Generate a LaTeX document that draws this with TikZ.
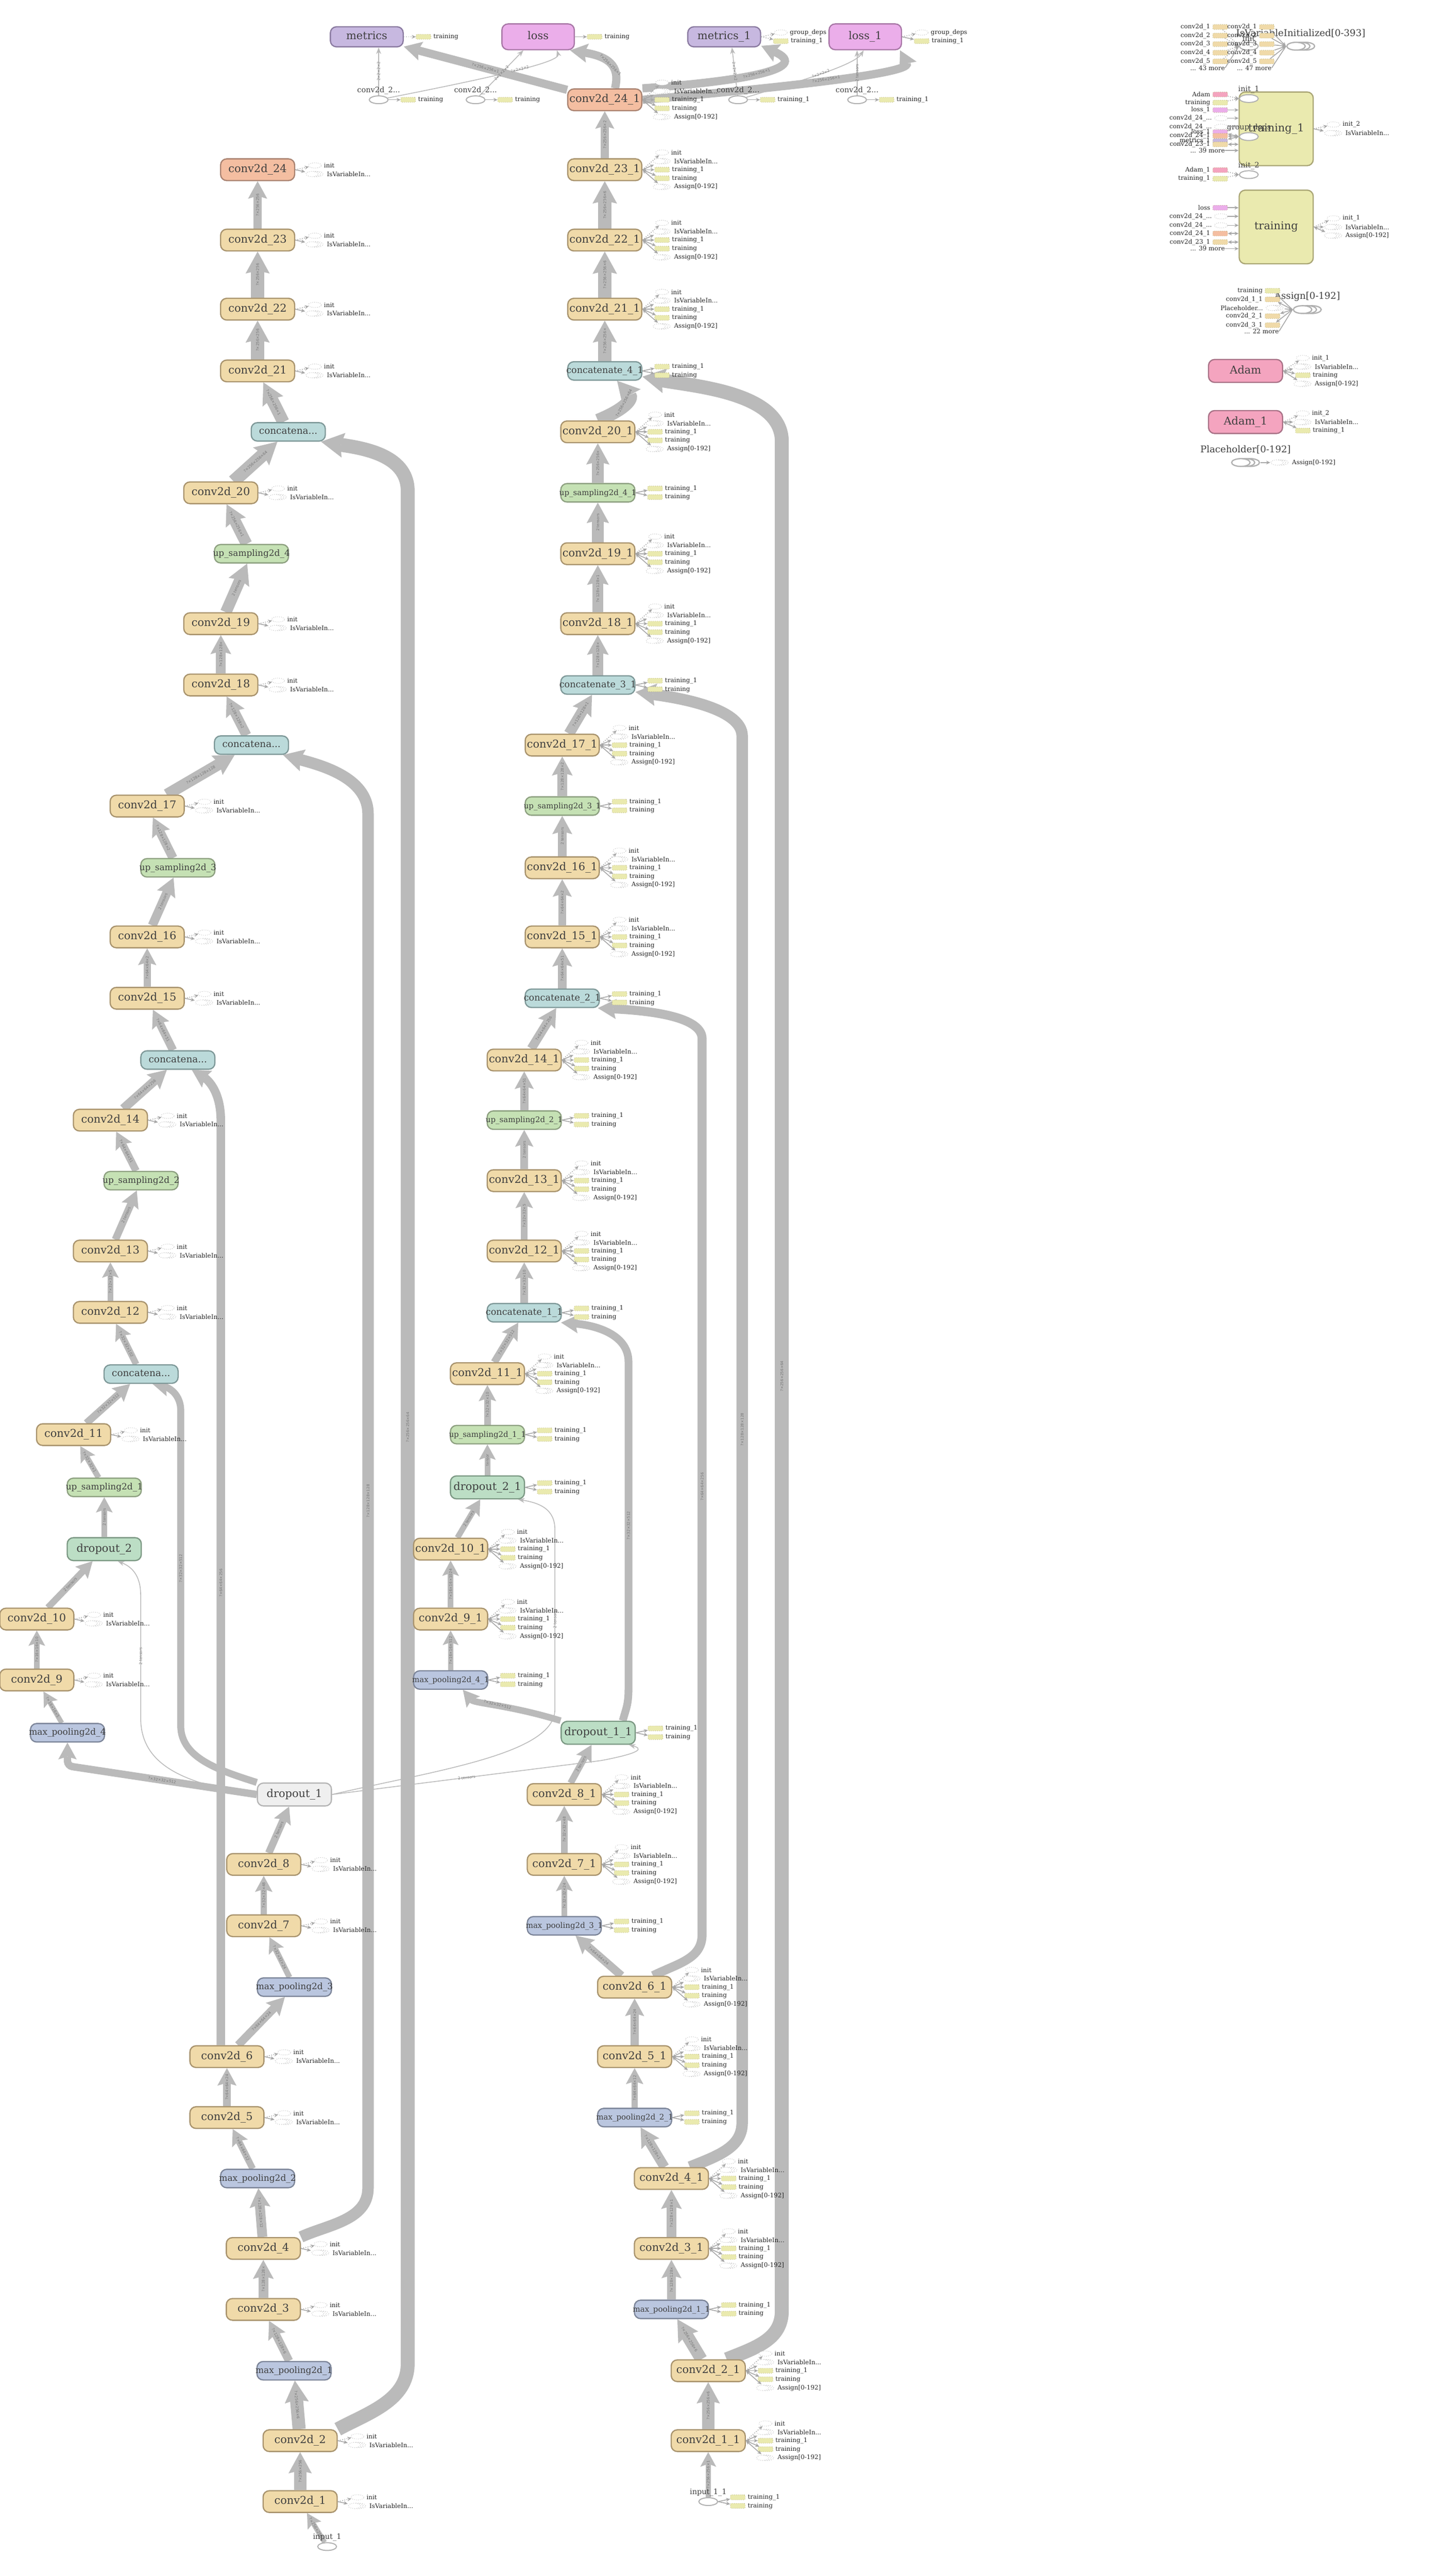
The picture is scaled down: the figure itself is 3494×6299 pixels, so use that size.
\documentclass[tikz,border=0pt]{standalone}
\usepackage{fontspec}
\usepackage{graphicx}
\setmainfont{DejaVu Serif}
\newfontfamily\shapefont{DejaVu Sans}
\usetikzlibrary{arrows.meta,calc,shapes.geometric}
\pgfdeclarelayer{edges}
\pgfsetlayers{edges,main}

\definecolor{convFill}{HTML}{F0DAA9}
\definecolor{convLine}{HTML}{A8936D}
\definecolor{outFill}{HTML}{F4BEA1}
\definecolor{outLine}{HTML}{A98270}
\definecolor{poolFill}{HTML}{BAC6DF}
\definecolor{poolLine}{HTML}{7C8599}
\definecolor{upFill}{HTML}{C5E1B4}
\definecolor{upLine}{HTML}{8DA080}
\definecolor{catFill}{HTML}{BBDADA}
\definecolor{catLine}{HTML}{7E9898}
\definecolor{dropFill}{HTML}{BCDEC5}
\definecolor{dropLine}{HTML}{7B9883}
\definecolor{grayFill}{HTML}{EFEFEF}
\definecolor{grayLine}{HTML}{B5B5B5}
\definecolor{metFill}{HTML}{C7B8E0}
\definecolor{metLine}{HTML}{8A7AA0}
\definecolor{lossFill}{HTML}{EBAEEA}
\definecolor{lossLine}{HTML}{A877A6}
\definecolor{trainFill}{HTML}{EAEAAF}
\definecolor{trainLine}{HTML}{AAA676}
\definecolor{adamFill}{HTML}{F4A4BF}
\definecolor{adamLine}{HTML}{A87186}
\definecolor{edgeGray}{HTML}{BABABA}
\definecolor{annGray}{HTML}{A6A6A6}
\definecolor{stubLine}{HTML}{B0B0B0}
\definecolor{stubEdge}{HTML}{B5AF78}
\definecolor{textGray}{HTML}{3F3F3F}
\definecolor{shapeGray}{HTML}{777777}

\newbox\labbox
\newcommand{\tdots}{...}

\begin{document}
\begin{tikzpicture}[x=0.01cm, y=-0.01cm,
    % op boxes
    gnode/.style={draw, rounded corners=0.15cm, line width=0.03cm,
        minimum width=1.81cm, minimum height=0.53cm, inner sep=0pt,
        text=textGray, font=\fontsize{7.5}{8}\selectfont,
        text height=5.4pt, text depth=1.6pt,
        execute at begin node={\setbox\labbox=\hbox\bgroup},
        execute at end node={\egroup\ifdim\wd\labbox>1.88cm
            \hbox to 0pt{\hss\resizebox{1.88cm}{!}{\box\labbox}\hss}%
            \else\hbox to 0pt{\hss\box\labbox\hss}\fi}},
    convbox/.style={gnode, fill=convFill, draw=convLine},
    outbox/.style={gnode, fill=outFill, draw=outLine},
    opbox/.style={gnode, minimum height=0.45cm, font=\fontsize{6.6}{7}\selectfont,
        text height=4.7pt, text depth=1.4pt},
    poolbox/.style={opbox, fill=poolFill, draw=poolLine},
    upbox/.style={opbox, fill=upFill, draw=upLine},
    catbox/.style={opbox, fill=catFill, draw=catLine},
    dropbox/.style={gnode, minimum height=0.56cm, fill=dropFill, draw=dropLine},
    greybox/.style={gnode, minimum height=0.56cm, fill=grayFill, draw=grayLine},
    metbox/.style={gnode, minimum width=1.78cm, minimum height=0.49cm, fill=metFill, draw=metLine},
    lossbox/.style={gnode, minimum width=1.77cm, minimum height=0.63cm, fill=lossFill, draw=lossLine},
    trainbox/.style={gnode, minimum height=1.80cm, fill=trainFill, draw=trainLine},
    adambox/.style={gnode, minimum height=0.56cm, fill=adamFill, draw=adamLine},
    opell/.style={ellipse, draw=stubLine, line width=0.025cm, fill=white,
        minimum width=0.46cm, minimum height=0.19cm, inner sep=0pt},
    serbig/.style={rectangle, minimum width=0.71cm, minimum height=0.23cm, inner sep=0pt,
        path picture={\foreach \s in {0.47,0.355,0.24}
            \draw[draw=stubLine, line width=0.03cm, fill=white]
                ([xshift=\s cm]path picture bounding box.west) ellipse [x radius=0.225cm, y radius=0.095cm];}},
    elllab/.style={font=\fontsize{5.2}{6}\selectfont, text=textGray, inner sep=0.5pt},
    biglab/.style={font=\fontsize{6.5}{7}\selectfont, text=textGray, inner sep=0.5pt},
    % data flow
    flow/.code={\pgfmathsetlengthmacro\flw{#1*0.01cm}%
        \pgfmathsetlengthmacro\fll{#1*0.009cm+0.25cm}%
        \pgfmathsetlengthmacro\flh{#1*0.01cm+0.27cm}%
        \tikzset{draw=edgeGray, line width=\flw,
            -{Stealth[length=\fll, width=\flh, inset=0.07cm, line width=0pt]}}},
    thinflow/.style={draw=edgeGray, line width=0.02cm, -{Stealth[length=0.16cm, width=0.12cm]}},
    elab/.style={sloped, inner sep=0.4pt, text=shapeGray, font=\shapefont\fontsize{2.6}{3}\selectfont},
    % annotations
    annlab/.style={inner sep=0pt, text=black!85, font=\fontsize{4.3}{5}\selectfont},
    annline/.style={draw=annGray, line width=0.02cm},
    stubell/.style={ellipse, draw=stubLine, densely dotted, line width=0.012cm, fill=white,
        minimum width=0.32cm, minimum height=0.13cm, inner sep=0pt},
    stubser/.style={rectangle, minimum width=0.46cm, minimum height=0.16cm, inner sep=0pt,
        path picture={\foreach \s in {0.28,0.22,0.16}
            \draw[draw=stubLine, densely dotted, line width=0.012cm, fill=white]
                ([xshift=\s cm]path picture bounding box.west) ellipse [x radius=0.15cm, y radius=0.065cm];}},
    stubbox/.style={rectangle, rounded corners=0.02cm, draw=stubEdge, densely dotted,
        line width=0.012cm, fill=#1, minimum width=0.36cm, minimum height=0.12cm, inner sep=0pt},
    stubbox/.default=trainFill,
    stub ini/.style={stubell}, stub gd/.style={stubell},
    stub isv/.style={stubser}, stub asg/.style={stubser},
    stub bt/.style={stubbox}, stub ot/.style={stubbox}, stub dt/.style={stubbox},
    in box/.style={stubbox=#1}, in ell/.style={stubell}, in ser/.style={stubser},
    link ini/.style={annline, densely dotted, -{Stealth[length=0.1cm, width=0.09cm]}},
    link gd/.style={link ini}, link dt/.style={link ini},
    link isv/.style={annline, -{Stealth[length=0.1cm, width=0.09cm]}},
    link ot/.style={link isv},
    link bt/.style={annline, {Stealth[length=0.1cm, width=0.09cm]}-{Stealth[length=0.1cm, width=0.09cm]}},
    link asg/.style={link bt},
    link rev/.style={annline, {Stealth[length=0.1cm, width=0.09cm]}-},
    link bare/.style={annline}
]
\useasboundingbox (0,0) rectangle (3494,6299);

% --- annotation macros ---
\newcommand{\annot}[3]{%
    \foreach \kind/\txt [count=\i] in {#3} {
        \node[stub \kind] (#1-\i) at ($(#1.east)+(48,{(\i-(#2+1)/2)*21})$) {};
        \draw[link \kind] (#1.east) -- (#1-\i);
        \node[annlab, anchor=west] at ([xshift=0.05cm]#1-\i.east) {\txt};
    }%
}
\newcommand{\inrow}[8]{%
    \node[in #4=#5] (#1) at (#2,#3) {};
    \node[annlab, anchor=east] at ([xshift=-0.05cm]#1.west) {#6};
    \draw[link #7] (#1) -- (#8);
}

% --- left copy ---
\node[opell, label={[elllab]above:input\_1}] (inp) at (800,6227) {};
\foreach \n/\px/\py in {1/734/6117, 2/734/5968, 3/644/5647, 4/644/5498, 5/555/5178,
    6/555/5029, 7/645/4709, 8/645/4559, 9/90/4108, 10/90/3959, 11/180/3508,
    12/270/3209, 13/270/3059, 14/270/2739, 15/360/2441, 16/360/2291, 17/360/1971,
    18/540/1675, 19/540/1525, 20/540/1205, 21/630/907, 22/630/756, 23/630/587}
    \node[convbox] (cv\n) at (\px,\py) {conv2d\_\n};
\node[outbox] (cv24) at (630,415) {conv2d\_24};
\foreach \n/\px/\py in {1/719/5797, 2/630/5327, 3/720/4859, 4/165/4237}
    \node[poolbox] (mp\n) at (\px,\py) {max\_pooling2d\_\n};
\foreach \n/\px/\py in {1/255/3637, 2/345/2887, 3/435/2122, 4/615/1354}
    \node[upbox] (up\n) at (\px,\py) {up\_sampling2d\_\n};
\foreach \n/\px/\py in {1/345/3360, 2/435/2592, 3/615/1822, 4/705/1056}
    \node[catbox] (cc\n) at (\px,\py) {concatena\tdots};
\node[greybox] (dp1) at (720,4388) {dropout\_1};
\node[dropbox] (dp2) at (255,3788) {dropout\_2};
\foreach \n in {1,...,24} {\annot{cv\n}{2}{ini/init, isv/IsVariableIn\tdots}}

% --- second copy ---
\node[opell, label={[elllab]above:input\_1\_1}] (inpb) at (1732,6117) {};
\foreach \n/\px/\py in {1/1732/5968, 2/1732/5797, 3/1642/5498, 4/1642/5327, 5/1552/5029,
    6/1552/4859, 7/1380/4559, 8/1380/4388, 9/1102/3959, 10/1102/3788, 11/1192/3359,
    12/1282/3059, 13/1282/2887, 14/1282/2592, 15/1375/2291, 16/1375/2122, 17/1375/1822,
    18/1462/1525, 19/1462/1354, 20/1462/1056, 21/1479/756, 22/1479/587, 23/1479/415}
    \node[convbox] (cv\n b) at (\px,\py) {conv2d\_\n\_1};
\node[outbox] (cv24b) at (1479,244) {conv2d\_24\_1};
\foreach \n/\px/\py in {1/1642/5647, 2/1552/5178, 3/1380/4709, 4/1102/4108}
    \node[poolbox] (mp\n b) at (\px,\py) {max\_pooling2d\_\n\_1};
\foreach \n/\px/\py in {1/1192/3508, 2/1282/2739, 3/1375/1971, 4/1462/1205}
    \node[upbox] (up\n b) at (\px,\py) {up\_sampling2d\_\n\_1};
\foreach \n/\px/\py in {1/1282/3210, 2/1375/2441, 3/1462/1675, 4/1479/907}
    \node[catbox] (cc\n b) at (\px,\py) {concatenate\_\n\_1};
\node[dropbox] (dp1b) at (1463,4237) {dropout\_1\_1};
\node[dropbox] (dp2b) at (1192,3637) {dropout\_2\_1};
\foreach \n in {1,...,24} {%
    \annot{cv\n b}{5}{ini/init, isv/IsVariableIn\tdots, bt/training\_1, bt/training, asg/{Assign[0-192]}}}
\foreach \nm in {mp1b, mp2b, mp3b, mp4b, up1b, up2b, up3b, up4b, cc1b, cc2b, cc3b, cc4b, dp1b, dp2b} {%
    \annot{\nm}{2}{ot/training\_1, ot/training}}
\annot{inpb}{2}{ot/training\_1, ot/training}

% --- metrics and losses ---
\node[metbox] (met) at (897,90) {metrics};
\node[lossbox] (loss) at (1316,90) {loss};
\node[metbox] (met1) at (1771,90) {metrics\_1};
\node[lossbox] (loss1) at (2116,90) {loss\_1};
\foreach \nm/\px in {ea/926, eb/1163, ec/1805, ed/2096}
    \node[opell, label={[elllab]above:conv2d\_2\tdots}] (\nm) at (\px,244) {};
\annot{met}{1}{dt/training}
\annot{loss}{1}{ot/training}
\annot{met1}{2}{gd/group\_deps, dt/training\_1}
\annot{loss1}{2}{gd/group\_deps, ot/training\_1}
\annot{ea}{1}{ot/training}
\annot{eb}{1}{ot/training}
\annot{ec}{1}{ot/training\_1}
\annot{ed}{1}{ot/training\_1}

% --- init and IsVariableInitialized ---
\node[opell, label={[elllab]above:init}] (init0) at (3054,113) {};
\node[serbig, label={[biglab, yshift=0.06cm]above:{IsVariableInitialized[0-393]}}] (isvi) at (3181,113) {};
\foreach \yy/\n in {66/1, 87/2, 108/3, 129/4, 150/5} {
    \inrow{ia\n}{2984}{\yy}{box}{convFill}{conv2d\_\n}{ini}{init0.west}
    \inrow{ib\n}{3098}{\yy}{box}{convFill}{conv2d\_\n}{isv}{isvi.west}
}
\node[annlab, anchor=east] (ia6) at (2996,166) {\tdots{} 43 more};
\node[annlab, anchor=east] (ib6) at (3110,166) {\tdots{} 47 more};
\draw[link bare] (ia6.east) -- (init0.west);
\draw[link bare] (ib6.east) -- (isvi.west);

% --- training_1 ---
\node[trainbox] (tr1) at (3121,315) {training\_1};
\node[opell, label={[elllab]above:init\_1}] (init1) at (3054,241) {};
\node[opell, label={[elllab]above:group\_deps}] (gdep) at (3054,334) {};
\inrow{ta1}{2984}{231}{box}{adamFill}{Adam}{ini}{init1.west}
\inrow{ta2}{2984}{251}{box}{trainFill}{training}{ini}{init1.west}
\inrow{ta3}{2984}{269}{box}{lossFill}{loss\_1}{isv}{tr1.west|-ta3}
\inrow{ta4}{2986}{289}{ell}{white}{conv2d\_24\_\tdots}{isv}{tr1.west|-ta4}
\inrow{ta5}{2986}{310}{ell}{white}{conv2d\_24\_\tdots}{isv}{tr1.west|-ta5}
\inrow{ta6}{2984}{323}{box}{lossFill}{loss\_1}{bt}{gdep.west}
\inrow{ta7}{2984}{332}{box}{outFill}{conv2d\_24\_1}{bt}{gdep.west}
\inrow{ta8}{2984}{345}{box}{metFill}{metrics\_1}{bt}{gdep.west}
\inrow{ta9}{2984}{353}{box}{convFill}{conv2d\_23\_1}{bt}{tr1.west|-ta9}
\node[annlab, anchor=east] (ta10) at (2996,368) {\tdots{} 39 more};
\draw[link isv] (ta10.east) -- (tr1.west|-ta10);
\annot{tr1}{2}{ini/init\_2, isv/IsVariableIn\tdots}

% --- init_2 ---
\node[opell, label={[elllab]above:init\_2}] (init2) at (3054,427) {};
\inrow{tc1}{2984}{416}{box}{adamFill}{Adam\_1}{ini}{init2.west}
\inrow{tc2}{2984}{437}{box}{trainFill}{training\_1}{ini}{init2.west}

% --- training ---
\node[trainbox] (tr0) at (3121,555) {training};
\inrow{tb1}{2984}{508}{box}{lossFill}{loss}{isv}{tr0.west|-tb1}
\inrow{tb2}{2986}{529}{ell}{white}{conv2d\_24\_\tdots}{isv}{tr0.west|-tb2}
\inrow{tb3}{2986}{551}{ell}{white}{conv2d\_24\_\tdots}{isv}{tr0.west|-tb3}
\inrow{tb4}{2984}{571}{box}{outFill}{conv2d\_24\_1}{bt}{tr0.west|-tb4}
\inrow{tb5}{2984}{592}{box}{convFill}{conv2d\_23\_1}{bt}{tr0.west|-tb5}
\node[annlab, anchor=east] (tb6) at (2996,608) {\tdots{} 39 more};
\draw[link isv] (tb6.east) -- (tr0.west|-tb6);
\annot{tr0}{3}{ini/init\_1, isv/IsVariableIn\tdots, asg/{Assign[0-192]}}

% --- Assign, Adam, Placeholder ---
\node[serbig, label={[biglab, yshift=0.06cm]above:{Assign[0-192]}}] (asgn) at (3197,757) {};
\inrow{td1}{3112}{711}{box}{trainFill}{training}{rev}{asgn.west}
\inrow{td2}{3112}{732}{box}{convFill}{conv2d\_1\_1}{rev}{asgn.west}
\inrow{td3}{3118}{753}{ser}{white}{Placeholder\tdots}{isv}{asgn.west}
\inrow{td4}{3112}{773}{box}{convFill}{conv2d\_2\_1}{rev}{asgn.west}
\inrow{td5}{3112}{795}{box}{convFill}{conv2d\_3\_1}{rev}{asgn.west}
\node[annlab, anchor=east] (td6) at (3128,810) {\tdots{} 22 more};
\draw[link bare] (td6.east) -- (asgn.west);
\node[adambox] (adam) at (3046,907) {Adam};
\annot{adam}{4}{ini/init\_1, isv/IsVariableIn\tdots, bt/training, asg/{Assign[0-192]}}
\node[adambox] (adam1) at (3046,1032) {Adam\_1};
\annot{adam1}{3}{ini/init\_2, isv/IsVariableIn\tdots, bt/training\_1}
\node[serbig, label={[biglab, yshift=0.06cm]above:{Placeholder[0-192]}}] (phold) at (3046,1131) {};
\annot{phold}{1}{isv/{Assign[0-192]}}

\begin{pgfonlayer}{edges}
% left copy, main flow
\foreach \a/\b/\w/\lab in {inp/cv1/12/{?×256×256}, cv1/cv2/30/{?×256×256},
    cv2/mp1/32/{?×256×256×6}, mp1/cv3/20/{?×128×128×6}, cv3/cv4/24/{?×128×128×},
    cv4/mp2/24/{?×128×128×12}, mp2/cv5/16/{?×64×64×12}, cv5/cv6/20/{?×64×64×24},
    cv6/mp3/20/{?×64×64×24}, mp3/cv7/14/{?×32×32×24}, cv7/cv8/16/{?×32×32×48},
    cv8/dp1/18/{2 tensors}, mp4/cv9/12/{?×16×16×5}, cv9/cv10/14/{?×16×16×10},
    cv10/dp2/16/{2 tensors}, dp2/up1/14/{2 tensors}, up1/cv11/14/{?×32×32×1},
    cv11/cc1/18/{?×32×32×512}, cc1/cv12/16/{?×32×32×102}, cv12/cv13/14/{?×32×32×5},
    cv13/up2/18/{2 tensors}, up2/cv14/18/{?×64×64×51}, cv14/cc2/22/{?×64×64×256},
    cc2/cv15/20/{?×64×64×51}, cv15/cv16/18/{?×64×64×2}, cv16/up3/22/{2 tensors},
    up3/cv17/22/{?×128×128×2}, cv17/cc3/28/{?×128×128×128}, cc3/cv18/24/{?×128×128×2},
    cv18/cv19/24/{?×128×128×}, cv19/up4/28/{2 tensors}, up4/cv20/28/{?×256×256×1},
    cv20/cc4/32/{?×256×256×64}, cc4/cv21/30/{?×256×256×1}, cv21/cv22/32/{?×256×256},
    cv22/cv23/32/{?×256×256}, cv23/cv24/20/{?×256×256}}
    \draw[flow=\w] (\a) -- node[elab] {\lab} (\b);
% second copy, main flow
\foreach \a/\b/\w/\lab in {inpb/cv1b/12/{?×256×256×1}, cv1b/cv2b/30/{?×256×256×6},
    cv2b/mp1b/30/{?×256×256×6}, mp1b/cv3b/22/{?×128×128×}, cv3b/cv4b/24/{?×128×128×1},
    cv4b/mp2b/24/{?×128×128×1}, mp2b/cv5b/16/{?×64×64×12}, cv5b/cv6b/20/{?×64×64×24},
    cv6b/mp3b/20/{?×64×64×24}, mp3b/cv7b/14/{?×32×32×24}, cv7b/cv8b/16/{?×32×32×48},
    cv8b/dp1b/16/{2 tensors}, mp4b/cv9b/12/{?×16×16×512}, cv9b/cv10b/14/{?×16×16×1024},
    cv10b/dp2b/14/{2 tensors}, dp2b/up1b/14/{tensor}, up1b/cv11b/16/{?×32×32×10},
    cv11b/cc1b/18/{?×32×32×512}, cc1b/cv12b/18/{?×32×32×10}, cv12b/cv13b/16/{?×32×32×5},
    cv13b/up2b/18/{2 tensors}, up2b/cv14b/20/{?×64×64×51}, cv14b/cc2b/22/{?×64×64×256},
    cc2b/cv15b/22/{?×64×64×51}, cv15b/cv16b/20/{?×64×64×2}, cv16b/up3b/22/{2 tensors},
    up3b/cv17b/24/{?×128×128×2}, cv17b/cc3b/26/{?×128×128×1}, cc3b/cv18b/26/{?×128×128×},
    cv18b/cv19b/26/{?×128×128×1}, cv19b/up4b/28/{2 tensors}, up4b/cv20b/30/{?×256×256×},
    cc4b/cv21b/32/{?×256×256×}, cv21b/cv22b/33/{?×256×256×6},
    cv22b/cv23b/33/{?×256×256×6}, cv23b/cv24b/20/{?×256×256×2}}
    \draw[flow=\w] (\a) -- node[elab] {\lab} (\b);
\draw[flow=32] (cv20b.north) .. controls (1530,1000) and (1548,975) .. node[elab] {?×256×256×64} ([xshift=0.3cm]cc4b.south);

% skip connections, left copy
\draw[flow=34] (cv2.north east) .. controls (900,5900) and (997,5870) .. (997,5780)
    -- node[elab] {?×256×256×64} (997,1200) .. controls (997,1110) and (880,1095) .. ([xshift=0.8cm]cc4.south);
\draw[flow=28] (cv4.north east) .. controls (800,5440) and (900,5430) .. (900,5350)
    -- node[elab] {?×128×128×128} (900,1990) .. controls (900,1900) and (780,1870) .. ([xshift=0.77cm]cc3.south);
\draw[flow=21] ([xshift=-0.15cm]cv6.north) -- node[elab] {?×64×64×256} (540,2740)
    .. controls (540,2660) and (500,2635) .. ([xshift=0.34cm]cc2.south);
\draw[flow=17] (dp1.north west) .. controls (540,4330) and (442,4300) .. (442,4220)
    -- node[elab] {?×32×32×512} (442,3450) .. controls (442,3400) and (400,3390) .. ([xshift=0.28cm]cc1.south);
\draw[flow=18, rounded corners=0.12cm] (dp1.west) -- node[elab] {?×32×32×512} (165,4318) -- (mp4.south);
\draw[thinflow] (dp1.west) .. controls (420,4360) and (344,4300) .. (344,4200)
    -- node[elab] {2 tensors} (344,3900) .. controls (344,3850) and (320,3830) .. ([xshift=0.33cm]dp2.south);
\draw[thinflow] (dp1.east) .. controls (1060,4330) and (1357,4290) .. (1357,4180)
    -- node[elab] {2 tensors} (1357,3740) .. controls (1357,3690) and (1320,3675) .. ([xshift=0.75cm]dp2b.south);
\draw[thinflow] (dp1.east) -- node[elab] {2 tensors} (1470,4305)
    .. controls (1575,4285) and (1570,4275) .. ([xshift=0.75cm]dp1b.south);

% skip connections, second copy
\draw[flow=34] ([xshift=0.45cm]cv2b.north) .. controls (1850,5740) and (1912,5720) .. (1912,5650)
    -- node[elab] {?×256×256×64} (1912,1080) .. controls (1912,960) and (1700,945) .. ([yshift=0.1cm]cc4b.south east);
\draw[flow=28] ([xshift=0.45cm]cv4b.north) .. controls (1760,5270) and (1815,5250) .. (1815,5190)
    -- node[elab] {?×128×128×128} (1815,1800) .. controls (1815,1730) and (1650,1705) .. ([yshift=0.07cm]cc3b.south east);
\draw[flow=22] ([xshift=0.45cm]cv6b.north) .. controls (1660,4800) and (1717,4790) .. (1717,4730)
    -- node[elab] {?×64×64×256} (1717,2540) .. controls (1717,2480) and (1560,2470) .. ([xshift=-0.05cm]cc2b.south east);
\draw[flow=19] ([xshift=0.6cm]dp1b.north) .. controls (1530,4180) and (1537,4170) .. (1537,4130)
    -- node[elab] {?×32×32×512} (1537,3330) .. controls (1537,3260) and (1450,3240) .. ([xshift=0.9cm]cc1b.south);
\draw[flow=16] (dp1b.north west) .. controls (1250,4170) and (1160,4165) .. node[elab] {?×32×32×512} ([xshift=0.3cm]mp4b.south);

% outputs to metrics and losses
\draw[flow=20] (cv24b) -- node[elab] {?×256×256×1} (met);
\draw[flow=20] ([xshift=0.25cm]cv24b.north) .. controls (1515,170) and (1500,140) .. node[elab] {?×256×256×1} ([xshift=-0.12cm]loss.south east);
\draw[flow=20] (cv24b.north east) .. controls (1800,200) and (1990,170) .. node[elab] {?×256×256×1} ([yshift=0.04cm]met1.south east);
\draw[flow=20] (cv24b.east) .. controls (1900,215) and (2230,180) .. node[elab] {?×256×256×1} ([xshift=-0.05cm]loss1.south east);
\draw[thinflow] (ea.north) -- node[elab] {2×2×2×2} (ea.north |- met.south);
\draw[thinflow] (ea) .. controls (1250,180) and (1370,150) .. node[elab] {?×2×2×2} ([xshift=0.46cm]loss.south);
\draw[thinflow] (eb) -- node[elab] {2×2×2×2} ([xshift=-0.36cm]loss.south);
\draw[thinflow] (ec) -- node[elab] {2×2×2×2} ([xshift=0.19cm]met1.south);
\draw[thinflow] (ec) .. controls (1950,200) and (2090,160) .. node[elab] {?×2×2×2} ([xshift=-0.04cm]loss1.south);
\draw[thinflow] (ed.north) -- node[elab] {2 tensors} (ed.north |- loss1.south);
\end{pgfonlayer}

\end{tikzpicture}
\end{document}
